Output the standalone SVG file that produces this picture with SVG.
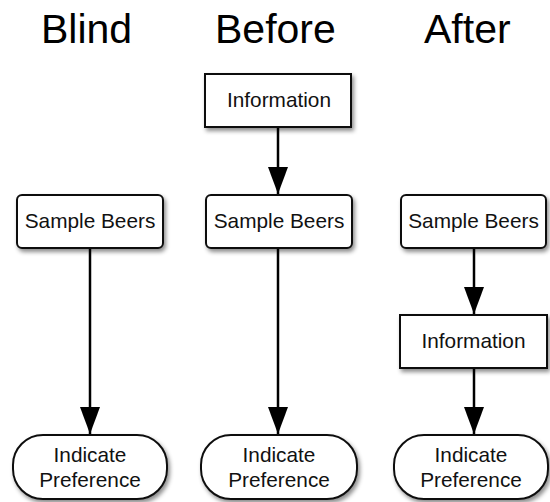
<svg xmlns="http://www.w3.org/2000/svg" width="550" height="502" viewBox="0 0 550 502">
<defs>
<style>
.title{font-family:"Liberation Sans",Arial,sans-serif;font-size:41px;fill:#000}
.lbl{font-family:"Liberation Sans",Arial,sans-serif;font-size:20.8px;fill:#111;text-anchor:middle}
.box{fill:#fff;stroke:#111;stroke-width:2;filter:url(#sh)}
.conn{stroke:#000;stroke-width:2.5;fill:none;marker-end:url(#ah)}
</style>
<filter id="sh" x="-10%" y="-10%" width="130%" height="140%">
<feDropShadow dx="2" dy="3" stdDeviation="2" flood-color="#000" flood-opacity="0.45"/>
</filter>
<marker id="ah" markerUnits="userSpaceOnUse" markerWidth="28" markerHeight="22" refX="27" refY="10" orient="auto" viewBox="0 0 28 22">
<path d="M0,0 L27,10 L0,20 z" fill="#000"/>
</marker>
</defs>
<rect width="550" height="502" fill="#fff"/>
<g id="titles">
<text class="title" x="41" y="43">Blind</text>
<text class="title" x="215" y="43">Before</text>
<text class="title" x="424" y="43">After</text>
</g>
<g id="connectors">
<line class="conn" x1="90" y1="248" x2="90" y2="434"/>
<line class="conn" x1="278" y1="127" x2="278" y2="194"/>
<line class="conn" x1="278" y1="248" x2="278" y2="434"/>
<line class="conn" x1="474" y1="248" x2="474" y2="314"/>
<line class="conn" x1="474" y1="368" x2="474" y2="434"/>
</g>
<g id="blind-sample">
<rect class="box" x="17" y="195" width="146" height="53" rx="5"/>
<text class="lbl" x="90" y="228">Sample Beers</text>
</g>
<g id="blind-pref">
<rect class="box" x="13" y="435" width="154" height="64" rx="30"/>
<text class="lbl" x="90" y="462">Indicate</text>
<text class="lbl" x="90" y="487">Preference</text>
</g>
<g id="before-info">
<rect class="box" x="205" y="74" width="146" height="53"/>
<text class="lbl" x="279" y="107">Information</text>
</g>
<g id="before-sample">
<rect class="box" x="206" y="195" width="146" height="53" rx="5"/>
<text class="lbl" x="279" y="228">Sample Beers</text>
</g>
<g id="before-pref">
<rect class="box" x="201" y="435" width="156" height="64" rx="30"/>
<text class="lbl" x="279" y="462">Indicate</text>
<text class="lbl" x="279" y="487">Preference</text>
</g>
<g id="after-sample">
<rect class="box" x="401" y="195" width="145" height="53" rx="5"/>
<text class="lbl" x="473.5" y="228">Sample Beers</text>
</g>
<g id="after-info">
<rect class="box" x="400" y="315" width="147" height="53"/>
<text class="lbl" x="473.5" y="348">Information</text>
</g>
<g id="after-pref">
<rect class="box" x="394" y="435" width="154" height="64" rx="30"/>
<text class="lbl" x="471" y="462">Indicate</text>
<text class="lbl" x="471" y="487">Preference</text>
</g>
</svg>
